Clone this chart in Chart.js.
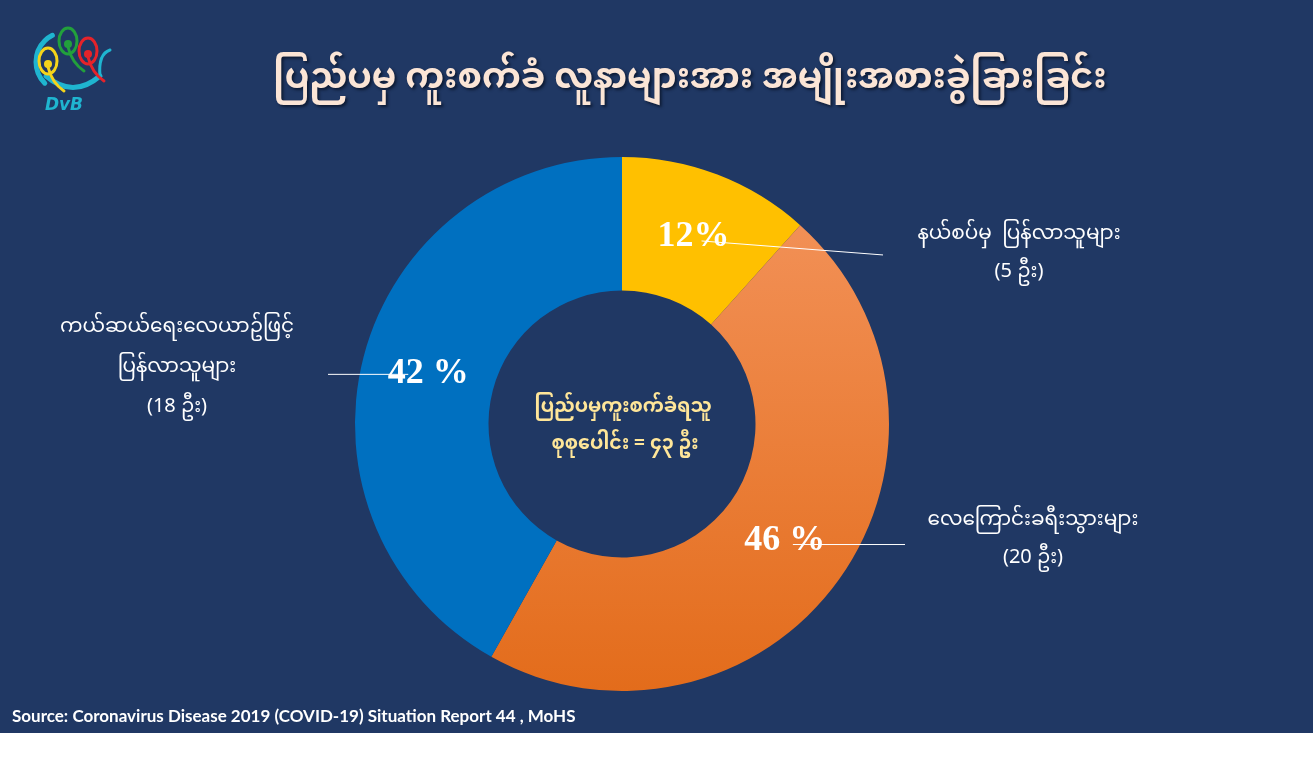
<!DOCTYPE html>
<html>
<head>
<meta charset="utf-8">
<script src="https://cdn.jsdelivr.net/npm/chart.js@4"></script>
<style>
  body { margin: 0; background: #ffffff; }
  #wrap { position: relative; width: 1313px; height: 733px; background: #203864; overflow: hidden; }
  #myChart { position: absolute; left: 0; top: 0; }
  #logo { position: absolute; left: 18px; top: 14px; }
  .mm { font-family: "Noto Sans Myanmar", "Myanmar Text", "Padauk", "Noto Sans", sans-serif; }
  #title { position: absolute; left: 0; width: 1380px; top: 42px; text-align: center;
    color: #fbe5d6; font-size: 35px; font-weight: bold; text-shadow: 2px 2px 3px #0d1a33; }
  #source { position: absolute; left: 12px; top: 705px; color: #ffffff; font-family: Lato, "Open Sans", sans-serif;
    font-weight: bold; font-size: 17px; }
</style>
</head>
<body>
<div id="wrap">
  <canvas id="logo" width="100" height="100"></canvas>
  <div id="title" class="mm">ပြည်ပမှ ကူးစက်ခံ လူနာများအား အမျိုးအစားခွဲခြားခြင်း</div>
  <canvas id="myChart" width="1313" height="733"></canvas>
  <div id="source">Source: Coronavirus Disease 2019 (COVID-19) Situation Report 44 , MoHS</div>
</div>
<script>
// chart data
const categories = ['နယ်စပ်မှ  ပြန်လာသူများ', 'လေကြောင်းခရီးသွားများ', 'ကယ်ဆယ်ရေးလေယာဥ်ဖြင့်\nပြန်လာသူများ'];
const counts = [5, 20, 18];
const countLabels = ['(5 ဦး)', '(20 ဦး)', '(18 ဦး)'];
const percentLabels = ['12%', '46 %', '42 %'];
const sliceColors = ['#ffc000', 'orange-gradient', '#0070c0'];
const centerText = ['ပြည်ပမှကူးစက်ခံရသူ', 'စုစုပေါင်း = ၄၃ ဦး'];

const mmFont = '"Noto Sans Myanmar", "Myanmar Text", "Padauk", "Noto Sans", sans-serif';

function sliceFill(context) {
  const c = sliceColors[context.dataIndex];
  if (c !== 'orange-gradient') return c;
  const chart = context.chart;
  const area = chart.chartArea;
  if (!area) return '#ed7d31';
  const g = chart.ctx.createLinearGradient(0, area.top, 0, area.bottom);
  g.addColorStop(0, '#f4955e');
  g.addColorStop(1, '#e36c1b');
  return g;
}

// draws percent labels, leader lines, outer labels and the centre text
const labelPlugin = {
  id: 'labelPlugin',
  afterDatasetsDraw(chart) {
    const ctx = chart.ctx;
    const area = chart.chartArea;
    const meta = chart.getDatasetMeta(0);
    const cx = (area.left + area.right) / 2;
    const cy = (area.top + area.bottom) / 2;

    meta.data.forEach((arc, i) => {
      const p = arc.tooltipPosition();
      const right = p.x > cx;
      // leader line
      ctx.save();
      ctx.strokeStyle = '#ffffff';
      ctx.lineWidth = 1;
      ctx.beginPath();
      if (right) {
        const dy = i === 0 ? 14 : 0;
        ctx.moveTo(p.x + 8, p.y + 4);
        ctx.lineTo(area.right + (i === 0 ? -6 : 16), p.y + 4 + dy);
      } else {
        ctx.moveTo(p.x - 20, p.y + 1);
        ctx.lineTo(area.left - 27, p.y + 1);
      }
      ctx.stroke();
      ctx.restore();

      // percent label
      ctx.save();
      ctx.fillStyle = '#ffffff';
      ctx.font = 'bold 36px "Liberation Serif", "DejaVu Serif", serif';
      ctx.textAlign = 'center';
      ctx.textBaseline = 'middle';
      ctx.fillText(percentLabels[i], p.x, p.y);
      ctx.restore();

      // outer category label
      ctx.save();
      ctx.fillStyle = '#ffffff';
      ctx.font = '20px ' + mmFont;
      ctx.textAlign = 'center';
      ctx.textBaseline = 'middle';
      const lines = categories[i].split('\n').concat([countLabels[i]]);
      const x = right ? area.right + (i === 0 ? 130 : 144) : area.left - 178;
      let y0 = p.y;
      if (i === 1) y0 = p.y - 18;
      if (i === 2) y0 = p.y - 43;
      lines.forEach((t, k) => ctx.fillText(t, x, y0 + k * (right ? 38 : 40)));
      ctx.restore();
    });

    // centre text
    ctx.save();
    ctx.fillStyle = '#ffe699';
    ctx.font = 'bold 19px ' + mmFont;
    ctx.textAlign = 'center';
    ctx.textBaseline = 'middle';
    ctx.fillText(centerText[0], cx + 1, cy - 14);
    ctx.fillText(centerText[1], cx + 3, cy + 23);
    ctx.restore();
  }
};

const data = {
  labels: categories,
  datasets: [{
    data: counts,
    backgroundColor: sliceFill,
    borderWidth: 0,
  }]
};

const config = {
  type: 'doughnut',
  data,
  options: {
    responsive: false,
    animation: false,
    cutout: '50%',
    rotation: 0,
    layout: { padding: { left: 355, right: 424, top: 157, bottom: 42 } },
    plugins: {
      legend: { display: false },
      tooltip: { enabled: false }
    }
  },
  plugins: [labelPlugin]
};

const myChart = new Chart(document.getElementById('myChart').getContext('2d'), config);

// rough DVB logo
const lg = document.getElementById('logo').getContext('2d');
lg.lineCap = 'round';
lg.strokeStyle = '#1fb5d0';
lg.lineWidth = 5;
lg.beginPath();
lg.arc(48, 48, 30, Math.PI * 0.75, Math.PI * 1.35);
lg.stroke();
lg.beginPath();
lg.moveTo(28, 62);
lg.quadraticCurveTo(55, 85, 82, 62);
lg.stroke();
lg.lineWidth = 3;
lg.beginPath();
lg.moveTo(82, 62);
lg.quadraticCurveTo(80, 40, 92, 36);
lg.stroke();
[['#f5d31a', 30, 47], ['#22a03c', 50, 27], ['#e5232a', 70, 37]].forEach(([c, x, y]) => {
  lg.strokeStyle = c;
  lg.fillStyle = c;
  lg.lineWidth = 3;
  lg.beginPath();
  lg.ellipse(x, y, 9, 13, 0, 0, Math.PI * 2);
  lg.stroke();
  lg.beginPath();
  lg.arc(x, y + 3, 4, 0, Math.PI * 2);
  lg.fill();
  lg.beginPath();
  lg.moveTo(x, y + 6);
  lg.quadraticCurveTo(x + 4, y + 22, x + 16, y + 30);
  lg.stroke();
});
lg.fillStyle = '#1fb5d0';
lg.font = 'italic bold 17px "DejaVu Sans", sans-serif';
lg.textAlign = 'center';
lg.fillText('DvB', 46, 96);
</script>
</body>
</html>
